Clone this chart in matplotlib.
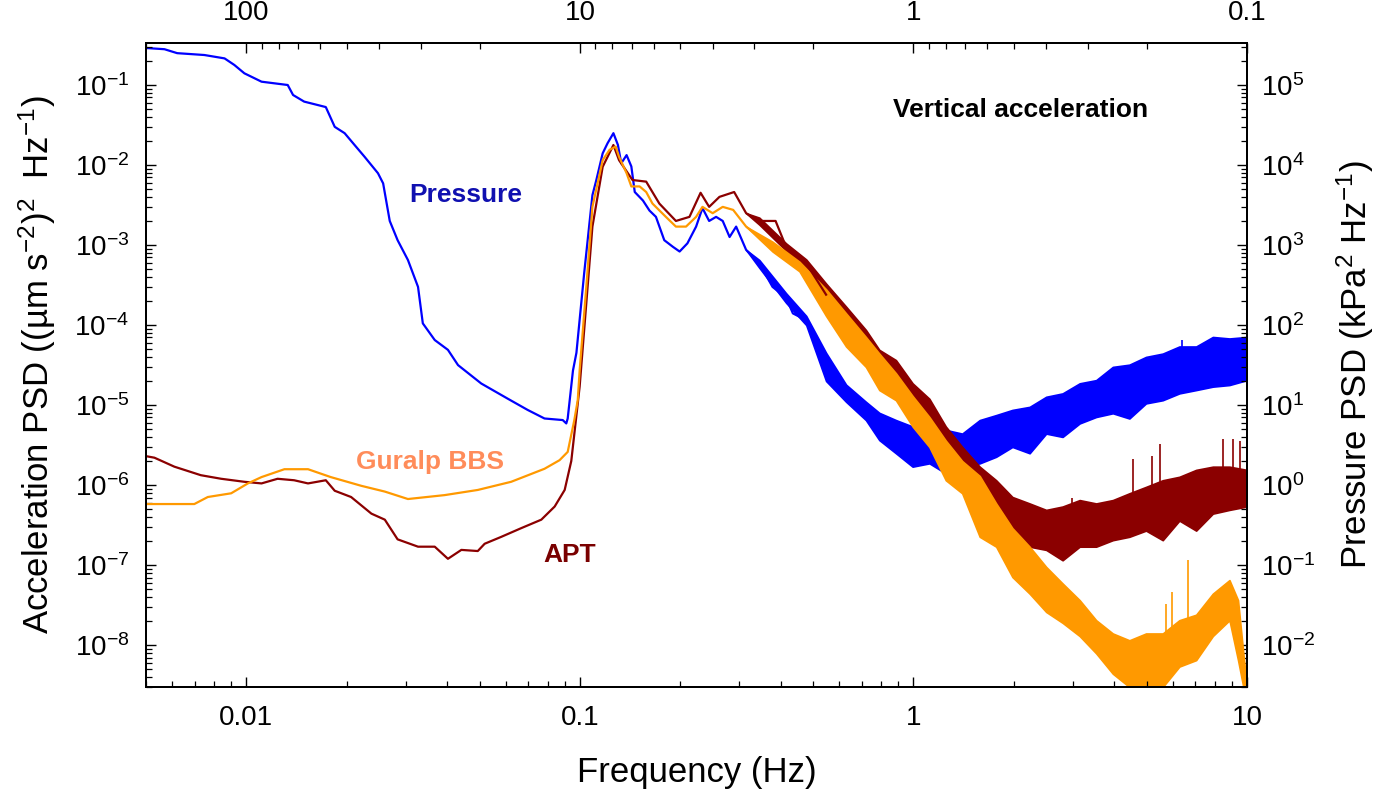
import matplotlib
matplotlib.use('Agg')
import matplotlib.pyplot as plt
from matplotlib.ticker import LogLocator, FuncFormatter, NullFormatter, FixedLocator

plt.rcParams['font.family'] = ['Liberation Sans', 'DejaVu Sans']
plt.rcParams['mathtext.fontset'] = 'custom'
plt.rcParams['mathtext.rm'] = 'Liberation Sans'
plt.rcParams['mathtext.it'] = 'Liberation Sans:italic'
plt.rcParams['mathtext.bf'] = 'Liberation Sans:bold'
plt.rcParams['mathtext.default'] = 'regular'
plt.rcParams['axes.unicode_minus'] = False

# ---- pressure PSD (kPa^2/Hz), traced line up to ~0.5 Hz
f_pres = [0.005, 0.00568, 0.0062, 0.00748, 0.0086, 0.0092, 0.00986, 0.0111, 0.0133, 0.0138,
          0.0149, 0.0173, 0.0184, 0.0197, 0.0211, 0.0226, 0.0248, 0.0257, 0.0269, 0.0284,
          0.0305, 0.0327, 0.0338, 0.0367, 0.0402, 0.0431, 0.0506, 0.0608, 0.0697, 0.0783,
          0.0888, 0.091, 0.0919, 0.0953, 0.0976, 0.103, 0.109, 0.112, 0.117, 0.121,
          0.126, 0.13, 0.133, 0.138, 0.1426, 0.146, 0.1545, 0.1616, 0.169, 0.179,
          0.19, 0.199, 0.21, 0.223, 0.233, 0.244, 0.256, 0.268, 0.281, 0.294,
          0.315, 0.345, 0.378, 0.415, 0.435, 0.477, 0.51, 0.547]
pres = [2.9e5, 2.8e5, 2.5e5, 2.37e5, 2.15e5, 1.78e5, 1.4e5, 1.1e5, 1.0e5, 7.5e4,
        6.2e4, 5.3e4, 3.0e4, 2.5e4, 1.78e4, 1.27e4, 7.9e3, 5.9e3, 2.0e3, 1.15e3,
        6.5e2, 3.0e2, 1.05e2, 65, 49, 31.6, 18.6, 12, 8.7, 6.8,
        6.5, 5.9, 6.8, 27, 45, 4.5e2, 4.2e3, 6.5e3, 1.4e4, 1.87e4,
        2.5e4, 1.78e4, 1.05e4, 1.33e4, 9.6e3, 4.6e3, 3.6e3, 2.7e3, 2.25e3, 1.15e3,
        9.5e2, 8.3e2, 1.05e3, 1.7e3, 2.9e3, 2.0e3, 2.25e3, 2.0e3, 1.26e3, 1.7e3,
        8.7e2, 5.9e2, 3.0e2, 2.2e2, 1.4e2, 1.15e2, 54, 30]
# noisy part: lower / upper envelope of the band
f_pres_hf = [0.315, 0.345, 0.415, 0.477, 0.547, 0.628, 0.72, 0.79, 0.886, 0.994,
             1.116, 1.25, 1.40, 1.58, 1.77, 1.98, 2.23, 2.50, 2.80, 3.15,
             3.53, 3.96, 4.44, 4.98, 5.59, 6.27, 7.04, 7.90, 8.86, 10.0]
pres_hi = [8.7e2, 6.5e2, 2.5e2, 1.3e2, 45, 18, 11, 8.0, 6.5, 5.4,
           4.4, 4.9, 4.4, 6.5, 7.5, 8.7, 9.5, 12.7, 14, 18.7,
           20.5, 30, 32, 40, 44, 54, 54, 71, 68, 71]
pres_lo = [8.7e2, 5.2e2, 1.9e2, 1.0e2, 20, 11, 6.5, 3.65, 2.5, 1.7,
           1.87, 1.4, 1.7, 1.87, 2.26, 3.0, 2.5, 4.4, 4.0, 5.9,
           7.1, 7.9, 6.8, 10.5, 11.5, 14, 15.4, 17, 17.8, 20.5]

# ---- Guralp BBS acceleration PSD ((um/s^2)^2/Hz)
f_bbs = [0.005, 0.00568, 0.00698, 0.00766, 0.009, 0.0101, 0.0111, 0.013, 0.0153, 0.0179,
         0.0221, 0.026, 0.0305, 0.0393, 0.0494, 0.0622, 0.0783, 0.0869, 0.0919, 0.0962,
         0.0985, 0.0998, 0.1045, 0.109, 0.117, 0.1227, 0.128, 0.131, 0.138, 0.1426,
         0.151, 0.158, 0.165, 0.181, 0.194, 0.208, 0.223, 0.233, 0.25, 0.268,
         0.288, 0.315, 0.345, 0.378, 0.415, 0.455, 0.499, 0.547]
bbs = [5.8e-7, 5.8e-7, 5.8e-7, 7.1e-7, 7.9e-7, 1.05e-6, 1.26e-6, 1.58e-6, 1.58e-6, 1.26e-6,
       9.8e-7, 8.3e-7, 6.7e-7, 7.5e-7, 8.7e-7, 1.1e-6, 1.6e-6, 2.05e-6, 2.6e-6, 6.5e-6,
       1.15e-5, 2.7e-5, 3.0e-4, 3.0e-3, 1.15e-2, 1.55e-2, 1.7e-2, 1.27e-2, 7.9e-3, 5.4e-3,
       5.4e-3, 4.6e-3, 3.3e-3, 2.25e-3, 1.7e-3, 1.7e-3, 2.25e-3, 3.0e-3, 2.5e-3, 3.0e-3,
       2.75e-3, 1.7e-3, 1.27e-3, 9.5e-4, 6.5e-4, 5.4e-4, 3.6e-4, 2.0e-4]
f_bbs_hf = [0.315, 0.378, 0.455, 0.547, 0.628, 0.72, 0.79, 0.886, 0.994, 1.116,
            1.25, 1.40, 1.58, 1.77, 1.98, 2.23, 2.50, 2.80, 3.15, 3.53,
            3.96, 4.44, 4.98, 5.59, 6.27, 7.04, 7.90, 8.86, 9.4, 9.75, 10.0]
bbs_hi = [1.7e-3, 1.1e-3, 6.2e-4, 2.8e-4, 1.4e-4, 7.1e-5, 4.4e-5, 2.5e-5, 1.3e-5, 7.1e-6,
          3.6e-6, 2.0e-6, 1.3e-6, 5.9e-7, 2.9e-7, 1.7e-7, 9.5e-8, 5.9e-8, 3.65e-8, 2.05e-8,
          1.4e-8, 1.15e-8, 1.4e-8, 1.4e-8, 2.05e-8, 2.4e-8, 4.4e-8, 6.5e-8, 3.65e-8, 7.9e-9, 3.0e-9]
bbs_lo = [1.7e-3, 8.3e-4, 4.7e-4, 1.3e-4, 5.4e-5, 3.0e-5, 1.54e-5, 1.15e-5, 5.4e-6, 3.0e-6,
          1.15e-6, 7.9e-7, 2.26e-7, 1.7e-7, 7.1e-8, 4.4e-8, 2.6e-8, 1.9e-8, 1.3e-8, 7.9e-9,
          4.4e-9, 3.0e-9, 3.0e-9, 3.0e-9, 5.4e-9, 6.5e-9, 1.3e-8, 2.05e-8, 6.5e-9, 3.0e-9, 3.0e-9]

# ---- APT acceleration PSD ((um/s^2)^2/Hz)
f_apt = [0.005, 0.0053, 0.00608, 0.0073, 0.0084, 0.00986, 0.0111, 0.0124, 0.0139, 0.0153,
         0.0173, 0.0184, 0.0206, 0.0237, 0.026, 0.0284, 0.0327, 0.0367, 0.0402, 0.0441,
         0.0494, 0.0518, 0.058, 0.0667, 0.0766, 0.084, 0.09, 0.0942, 0.0998, 0.109,
         0.117, 0.126, 0.131, 0.1437, 0.158, 0.173, 0.194, 0.213, 0.23, 0.244,
         0.262, 0.29, 0.315, 0.345, 0.386, 0.415, 0.477, 0.547]
apt = [2.3e-6, 2.2e-6, 1.7e-6, 1.33e-6, 1.2e-6, 1.1e-6, 1.05e-6, 1.2e-6, 1.15e-6, 1.05e-6,
       1.15e-6, 8.5e-7, 7.1e-7, 4.4e-7, 3.7e-7, 2.1e-7, 1.7e-7, 1.7e-7, 1.2e-7, 1.55e-7,
       1.5e-7, 1.85e-7, 2.25e-7, 2.9e-7, 3.7e-7, 5.4e-7, 8.7e-7, 2.0e-6, 1.7e-5, 1.7e-3,
       9.5e-3, 1.78e-2, 1.15e-2, 6.5e-3, 6.2e-3, 3.3e-3, 2.0e-3, 2.25e-3, 4.5e-3, 3.0e-3,
       4.0e-3, 4.6e-3, 2.5e-3, 2.0e-3, 2.0e-3, 9.5e-4, 5.9e-4, 2.4e-4]
f_apt_hf = [0.315, 0.345, 0.415, 0.477, 0.547, 0.628, 0.72, 0.79, 0.886, 0.994,
            1.116, 1.25, 1.40, 1.58, 1.77, 1.98, 2.23, 2.50, 2.80, 3.15,
            3.53, 3.96, 4.44, 4.98, 5.59, 6.27, 7.04, 7.90, 8.86, 10.0]
apt_hi = [2.5e-3, 2.2e-3, 1.05e-3, 6.6e-4, 3.3e-4, 1.7e-4, 8.7e-5, 4.9e-5, 3.65e-5, 1.87e-5,
          1.2e-5, 5.4e-6, 3.0e-6, 1.7e-6, 1.15e-6, 7.1e-7, 5.9e-7, 4.9e-7, 5.4e-7, 6.5e-7,
          5.9e-7, 6.5e-7, 7.9e-7, 9.5e-7, 1.15e-6, 1.27e-6, 1.55e-6, 1.7e-6, 1.7e-6, 1.55e-6]
apt_lo = [2.5e-3, 1.8e-3, 8.5e-4, 5.2e-4, 1.7e-4, 7.1e-5, 3.65e-5, 2.5e-5, 1.7e-5, 9.5e-6,
          5.4e-6, 2.5e-6, 1.4e-6, 7.9e-7, 4.4e-7, 2.5e-7, 1.7e-7, 1.55e-7, 1.15e-7, 1.7e-7,
          1.7e-7, 2.05e-7, 2.26e-7, 2.7e-7, 2.05e-7, 3.6e-7, 2.7e-7, 4.4e-7, 4.9e-7, 5.4e-7]

# narrow spectral spikes (frequency, base, peak)
apt_spk_f = [2.98, 4.55, 5.2, 5.47, 8.48, 9.1, 9.5]
apt_spk_base = [3.3e-7, 4.9e-7, 5.4e-7, 5.9e-7, 9e-7, 9.5e-7, 9.5e-7]
apt_spk_top = [7e-7, 2.1e-6, 2.3e-6, 3.3e-6, 3.8e-6, 3.8e-6, 3.6e-6]
bbs_spk_f = [5.7, 5.97, 6.65]
bbs_spk_base = [7e-9, 8e-9, 1e-8]
bbs_spk_top = [3.3e-8, 4.6e-8, 1.15e-7]
pres_spk_f = [6.4]
pres_spk_base = [30]
pres_spk_top = [65]

c_pres = '#0000ff'
c_bbs = '#ff9900'
c_apt = '#8b0000'

fig = plt.figure(figsize=(13.84, 8.02), dpi=100)
ax = fig.add_axes([0.1055, 0.1434, 0.7955, 0.803])
ax2 = ax.twinx()
ax.set_zorder(ax2.get_zorder() + 1)
ax.patch.set_visible(False)

# pressure on the right axis
ax2.plot(f_pres, pres, color=c_pres, lw=1.6)
ax2.fill_between(f_pres_hf, pres_lo, pres_hi, color=c_pres, lw=1.2)
ax2.vlines(pres_spk_f, pres_spk_base, pres_spk_top, color=c_pres, lw=1.2)

# accelerations on the left axis
ax.plot(f_apt, apt, color=c_apt, lw=1.6)
ax.fill_between(f_apt_hf, apt_lo, apt_hi, color=c_apt, lw=1.2)
ax.vlines(apt_spk_f, apt_spk_base, apt_spk_top, color=c_apt, lw=1.2)
ax.plot(f_bbs, bbs, color=c_bbs, lw=1.6)
ax.fill_between(f_bbs_hf, bbs_lo, bbs_hi, color=c_bbs, lw=1.2)
ax.vlines(bbs_spk_f, bbs_spk_base, bbs_spk_top, color=c_bbs, lw=1.2)

xlim = (0.005, 10)
ylim = (3.0e-9, 3.35e-1)
ax.set_xscale('log')
ax.set_yscale('log')
ax.set_xlim(xlim)
ax.set_ylim(ylim)
ax2.set_yscale('log')
ax2.set_ylim(ylim[0] * 1e6, ylim[1] * 1e6)

# top axis: period in seconds
ax3 = ax.twiny()
ax3.set_xscale('log')
ax3.set_xlim(1 / xlim[0], 1 / xlim[1])
ax3.xaxis.set_major_locator(FixedLocator([100, 10, 1, 0.1]))
ax3.xaxis.set_major_formatter(FuncFormatter(lambda v, p: '%g' % v))
ax3.xaxis.set_minor_locator(LogLocator(base=10, subs=range(2, 10), numticks=20))
ax3.xaxis.set_minor_formatter(NullFormatter())

ax.xaxis.set_major_locator(FixedLocator([0.01, 0.1, 1, 10]))
ax.xaxis.set_major_formatter(FuncFormatter(lambda v, p: '%g' % v))
ax.xaxis.set_minor_formatter(NullFormatter())
ax.yaxis.set_major_locator(FixedLocator([1e-8, 1e-7, 1e-6, 1e-5, 1e-4, 1e-3, 1e-2, 1e-1]))
ax.yaxis.set_minor_locator(LogLocator(base=10, subs=range(2, 10), numticks=20))
ax.yaxis.set_minor_formatter(NullFormatter())
ax2.yaxis.set_major_locator(FixedLocator([1e-2, 1e-1, 1, 10, 1e2, 1e3, 1e4, 1e5]))
ax2.yaxis.set_minor_locator(LogLocator(base=10, subs=range(2, 10), numticks=20))
ax2.yaxis.set_minor_formatter(NullFormatter())

for a in (ax, ax2, ax3):
    a.tick_params(which='major', direction='in', length=7, width=1.0, labelsize=20)
    a.tick_params(which='minor', direction='in', length=4, width=0.9)
    for s in a.spines.values():
        s.set_linewidth(1.3)
ax.tick_params(axis='x', pad=13)
ax.tick_params(axis='y', pad=12)
ax2.tick_params(axis='y', pad=10)
ax3.tick_params(axis='x', pad=12)

ax.set_xlabel('Frequency (Hz)', fontsize=25, labelpad=18)
ax.set_ylabel(r'Acceleration PSD ((µm s$^{-2}$)$^{2}$  Hz$^{-1}$)', fontsize=25, labelpad=12)
ax2.set_ylabel(r'Pressure PSD (kPa$^{2}$ Hz$^{-1}$)', fontsize=25, labelpad=14)

ax.text(0.794, 0.896, 'Vertical acceleration', transform=ax.transAxes, fontsize=19,
        fontweight='bold', ha='center', va='center', color='black')
ax.text(0.29, 0.764, 'Pressure', transform=ax.transAxes, fontsize=19,
        fontweight='bold', ha='center', va='center', color='#1010b0')
ax.text(0.258, 0.349, 'Guralp BBS', transform=ax.transAxes, fontsize=19,
        fontweight='bold', ha='center', va='center', color='#ff8c5a')
ax.text(0.385, 0.205, 'APT', transform=ax.transAxes, fontsize=19,
        fontweight='bold', ha='center', va='center', color='#7a0000')

fig.savefig('out.png', dpi=100)
